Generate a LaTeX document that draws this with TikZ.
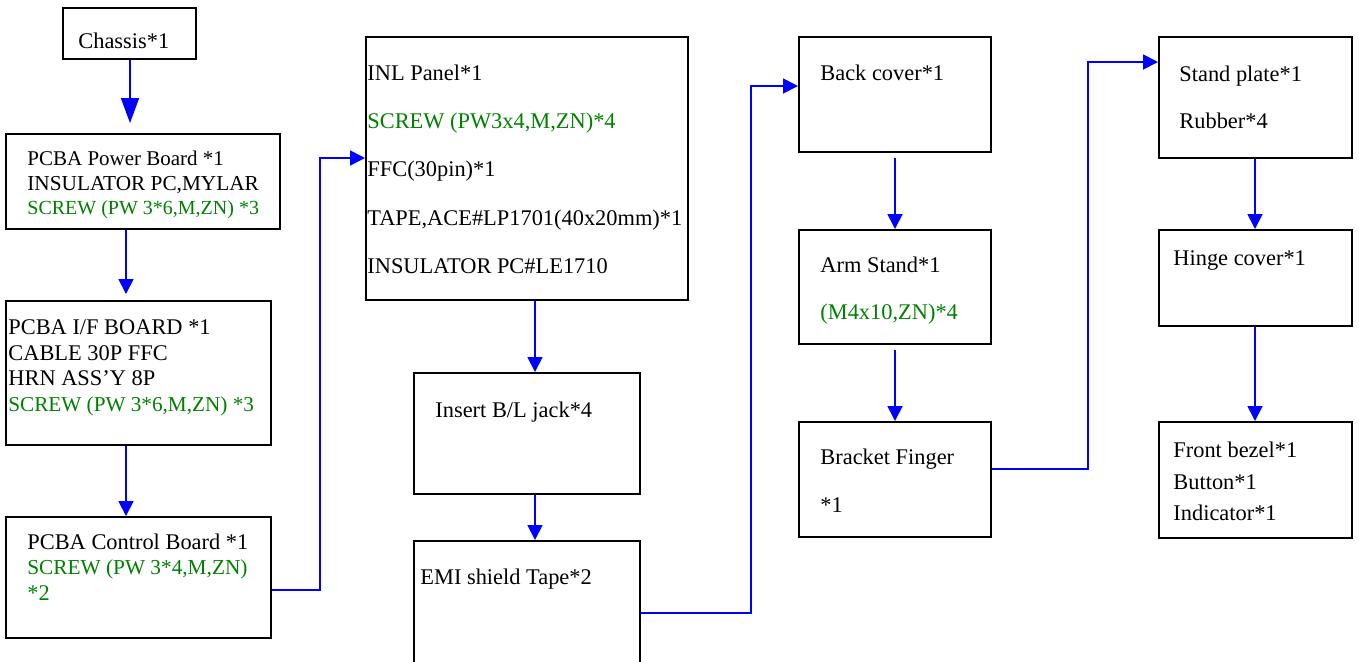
\documentclass[tikz,border=0pt]{standalone}
\usepackage{fontspec}
\setmainfont{Liberation Serif}
\usetikzlibrary{arrows.meta}
\definecolor{screwgreen}{RGB}{0,128,0}
\definecolor{linkblue}{RGB}{0,0,255}

\begin{document}
\begin{tikzpicture}[x=0.5pt, y=-0.5pt,
    part/.style={draw, line width=1pt, inner sep=0pt},
    lbl/.style={anchor=base west, inner sep=0pt, font=\fontsize{11.2pt}{13pt}\selectfont},
    squeeze/.style={font=\fontsize{#1}{13pt}\selectfont},
    screw/.style={lbl, text=screwgreen},
    link/.style={linkblue, line width=0.9pt, -{Triangle[length=7.5pt,width=7.5pt]}}]
    \useasboundingbox (0,0) rectangle (1359,661);

    % Column 1: boards
    \node[part, minimum width=66.5pt, minimum height=25.5pt] (chassis) at (129.5,33.5) {};
    \node[part, minimum width=137pt, minimum height=47.5pt] (power) at (143,181.5) {};
    \node[part, minimum width=132.5pt, minimum height=72pt] (ifboard) at (138.5,373) {};
    \node[part, minimum width=132.5pt, minimum height=60.5pt] (control) at (138.5,577.5) {};

    \node[lbl] (chassisA) at (78,48) {Chassis*1};
    \node[lbl, squeeze=10.5pt] (powerA) at (27,165) {PCBA Power Board *1};
    \node[lbl, squeeze=10.65pt] (powerB) at (27,190) {INSULATOR PC,MYLAR};
    \node[screw, squeeze=10pt] (powerC) at (27,214) {SCREW (PW 3*6,M,ZN) *3};
    \node[lbl] (ifA) at (8,334.5) {PCBA I/F BOARD *1};
    \node[lbl] (ifB) at (8,360) {CABLE 30P FFC};
    \node[lbl] (ifC) at (8,385.5) {HRN ASS'Y 8P};
    \node[screw, squeeze=10.6pt] (ifD) at (8,411) {SCREW (PW 3*6,M,ZN) *3};
    \node[lbl] (controlA) at (27,549) {PCBA Control Board *1};
    \node[screw, squeeze=10.65pt] (controlB) at (27,574) {SCREW (PW 3*4,M,ZN)};
    \node[screw] (controlC) at (27,600) {*2};

    % Column 2: panel
    \node[part, minimum width=161pt, minimum height=131.5pt] (inl) at (527,168.5) {};
    \node[part, minimum width=113pt, minimum height=60.5pt] (insert) at (527,433.5) {};
    \node[part, minimum width=113pt, minimum height=69.5pt] (emi) at (527,610.5) {};

    \node[lbl] (inlA) at (367,80) {INL Panel*1};
    \node[screw] (inlB) at (367,128) {SCREW (PW3x4,M,ZN)*4};
    \node[lbl] (inlC) at (367,176) {FFC(30pin)*1};
    \node[lbl] (inlD) at (367,225) {TAPE,ACE\#LP1701(40x20mm)*1};
    \node[lbl] (inlE) at (367,273) {INSULATOR PC\#LE1710};
    \node[lbl] (insertA) at (435,417) {Insert B/L jack*4};
    \node[lbl] (emiA) at (420,584) {EMI shield Tape*2};

    % Column 3: covers
    \node[part, minimum width=96pt, minimum height=57.5pt] (back) at (895,94.5) {};
    \node[part, minimum width=96pt, minimum height=57pt] (arm) at (895,287) {};
    \node[part, minimum width=96pt, minimum height=57.5pt] (bracket) at (895,479.5) {};

    \node[lbl] (backA) at (820,80) {Back cover*1};
    \node[lbl] (armA) at (820,272) {Arm Stand*1};
    \node[screw] (armB) at (820,319) {(M4x10,ZN)*4};
    \node[lbl] (bracketA) at (820,464) {Bracket Finger};
    \node[lbl] (bracketB) at (820,512) {*1};

    % Column 4: stand and bezel
    \node[part, minimum width=96.5pt, minimum height=60.5pt] (stand) at (1255.5,97.5) {};
    \node[part, minimum width=96.5pt, minimum height=48pt] (hinge) at (1255.5,278) {};
    \node[part, minimum width=96.5pt, minimum height=58pt] (front) at (1255.5,480) {};

    \node[lbl] (standA) at (1179,81) {Stand plate*1};
    \node[lbl] (standB) at (1179,128) {Rubber*4};
    \node[lbl] (hingeA) at (1173,265) {Hinge cover*1};
    \node[lbl] (frontA) at (1173,457) {Front bezel*1};
    \node[lbl] (frontB) at (1173,489) {Button*1};
    \node[lbl] (frontC) at (1173,520) {Indicator*1};

    % Links
    \coordinate (ccol) at (130,0);
    \coordinate (lcol) at (126,0);
    \coordinate (rcol) at (1255,0);
    \draw[link, -{Triangle[length=12.5pt,width=9pt]}, shorten >=5pt] (chassis.south -| ccol) -- (power.north -| ccol);
    \draw[link, shorten >=3pt] (power.south -| lcol) -- (ifboard.north -| lcol);
    \draw[link] (ifboard.south -| lcol) -- (control.north -| lcol);
    \draw[link] ([yshift=-6.25pt]control.east) -- ++(48,0) |- ([yshift=5.25pt]inl.west);

    \draw[link] ([xshift=4pt]inl.south) -- ([xshift=4pt]insert.north);
    \draw[link] ([xshift=4pt]insert.south) -- ([xshift=4pt]emi.north);
    \draw[link] ([yshift=-1.25pt]emi.east) -- ++(110,0) |- ([yshift=4.25pt]back.west);

    \draw[link, shorten <=2.5pt] (back.south) -- (arm.north);
    \draw[link, shorten <=2.5pt] (arm.south) -- (bracket.north);
    \draw[link] ([yshift=5.25pt]bracket.east) -- ++(96,0) |- ([yshift=17.75pt]stand.west);

    \draw[link] (stand.south -| rcol) -- (hinge.north -| rcol);
    \draw[link] (hinge.south -| rcol) -- (front.north -| rcol);
\end{tikzpicture}
\end{document}
